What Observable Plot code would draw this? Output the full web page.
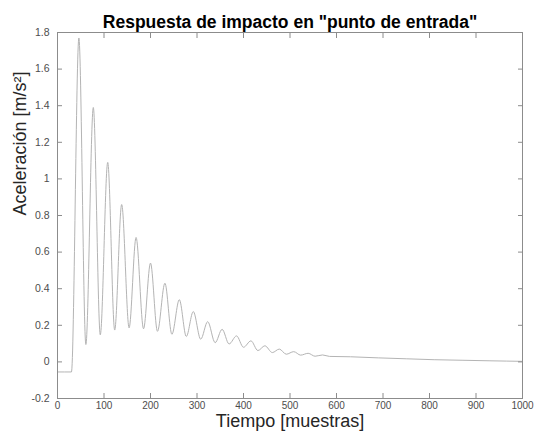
<!DOCTYPE html>
<html>
<head>
<meta charset="utf-8">
<script src="https://cdn.jsdelivr.net/npm/d3@7"></script>
<script src="https://cdn.jsdelivr.net/npm/@observablehq/plot@0.6"></script>
<style>
  body { margin: 0; background: #fff; }
</style>
</head>
<body>
<div id="chart"></div>
<script>
const titleText = 'Respuesta de impacto en "punto de entrada"';
const xLabel = "Tiempo [muestras]";
const yLabel = "Aceleración [m/s²]";

const xTicks = [0, 100, 200, 300, 400, 500, 600, 700, 800, 900, 1000];
const yTicks = [-0.2, 0, 0.2, 0.4, 0.6, 0.8, 1, 1.2, 1.4, 1.6, 1.8];

// Signal before the impact
const baseSamples = [0, 30];
const baseValues = [-0.055, -0.055];

// Crests of the ringing
const peakSamples = [46, 77, 108, 138, 169, 200, 231, 262, 292, 323, 354, 385, 416, 446, 477, 508, 539, 570];
const peakValues = [1.77, 1.39, 1.09, 0.86, 0.68, 0.54, 0.43, 0.34, 0.275, 0.22, 0.178, 0.142, 0.115, 0.088, 0.07, 0.056, 0.047, 0.038];

// Troughs of the ringing
const troughSamples = [61, 92, 123, 154, 185, 215, 246, 277, 308, 339, 369, 400, 431, 462, 492, 523, 554, 585];
const troughValues = [0.095, 0.148, 0.174, 0.186, 0.181, 0.167, 0.151, 0.139, 0.124, 0.105, 0.098, 0.08, 0.062, 0.051, 0.042, 0.037, 0.031, 0.03];

// Slow settling towards zero
const tailSamples = [630, 690, 750, 810, 870, 930, 1000];
const tailValues = [0.028, 0.022, 0.017, 0.012, 0.009, 0.006, 0.003];

const pairs = (xs, ys) => xs.map((x, i) => ({sample: x, value: ys[i]}));
const signal = [
  ...pairs(baseSamples, baseValues),
  ...pairs(peakSamples, peakValues),
  ...pairs(troughSamples, troughValues),
  ...pairs(tailSamples, tailValues)
].sort((a, b) => a.sample - b.sample);

const font = '"Liberation Sans", Arial, Helvetica, sans-serif';
const axisColor = "#8c8c8c";
const labelColor = "#4d4d4d";

const chart = Plot.plot({
  width: 535,
  height: 435,
  marginLeft: 57,
  marginRight: 13,
  marginTop: 32,
  marginBottom: 37,
  style: {fontFamily: font, background: "#fff", overflow: "visible"},
  x: {domain: [0, 1000]},
  y: {domain: [-0.2, 1.8]},
  marks: [
    Plot.line(signal, {x: "sample", y: "value", curve: "monotone-x", stroke: "#b4b4b4", strokeWidth: 1}),
    Plot.frame({stroke: axisColor}),
    Plot.axisX({anchor: "bottom", ticks: xTicks, tickSize: -5, tickPadding: 8, tickFormat: d => String(d),
      stroke: axisColor, color: labelColor, fontSize: 10, label: null}),
    Plot.axisX({anchor: "top", ticks: xTicks, tickSize: -5, tickFormat: () => "", stroke: axisColor, label: null}),
    Plot.axisY({anchor: "left", ticks: yTicks, tickSize: -5, tickPadding: 13, tickFormat: d => String(d),
      stroke: axisColor, color: labelColor, fontSize: 10.5, label: null}),
    Plot.axisY({anchor: "right", ticks: yTicks, tickSize: -5, tickFormat: () => "", stroke: axisColor, label: null}),
    Plot.text([titleText], {frameAnchor: "top", dy: -17, text: d => d, fontSize: 17.5, fontWeight: "bold", fill: "#000"}),
    Plot.text([xLabel], {frameAnchor: "bottom", dy: 28, text: d => d, fontSize: 18, fill: "#262626"}),
    Plot.text([yLabel], {frameAnchor: "left", dx: -37, rotate: -90, text: d => d, fontSize: 18, fill: "#262626"})
  ]
});

document.getElementById("chart").appendChild(chart);
</script>
</body>
</html>
